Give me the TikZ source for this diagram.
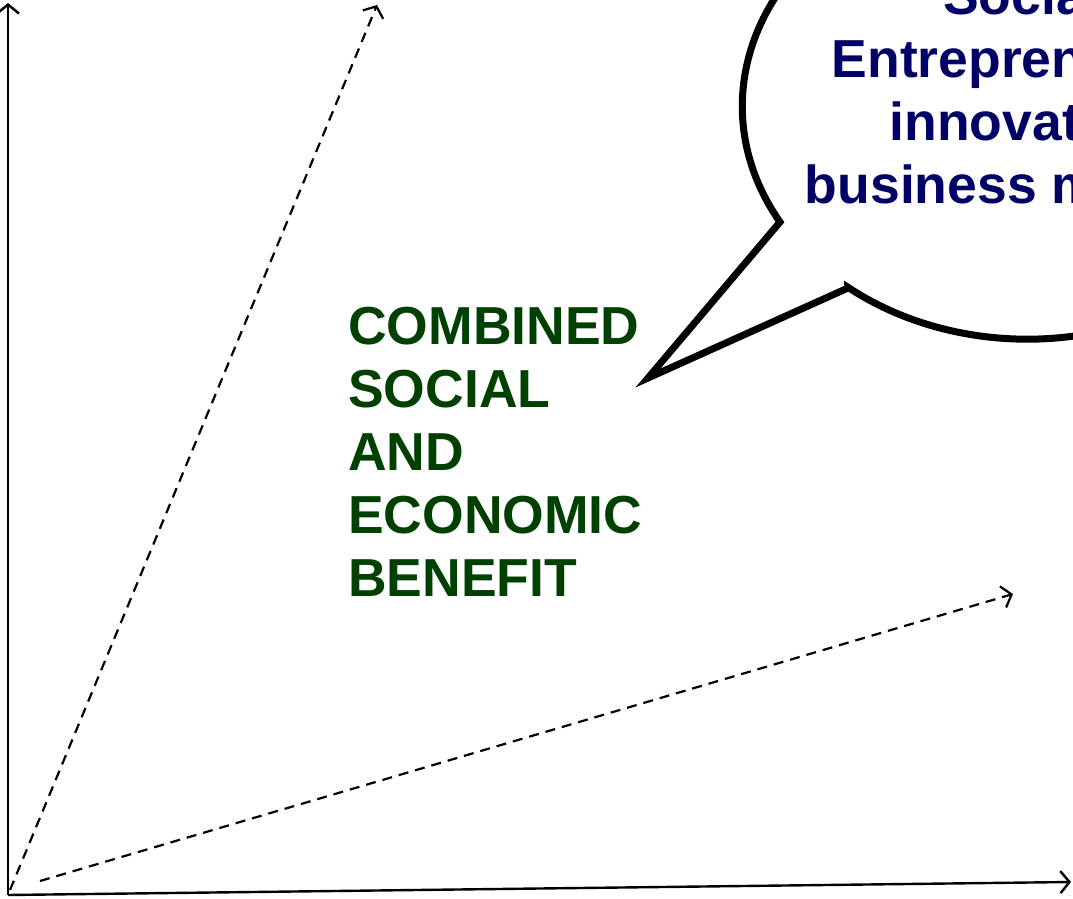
\documentclass[tikz,border=0pt]{standalone}
\usepackage{fontspec}
\setmainfont{Liberation Sans}
\usetikzlibrary{arrows.meta}

\definecolor{benefitgreen}{RGB}{0,64,0}
\definecolor{bubblenavy}{RGB}{0,0,102}

\tikzset{%
        axis/.style={
                ->,
                line width=2.4pt
            },
        ray/.style={
                ->,
                line width=2.2pt,
                dash pattern=on 10pt off 7pt
            },
        bigtext/.style={
                font=\bfseries\fontsize{53.5}{63}\selectfont,
                inner sep=0pt
            }
    }

\begin{document}
\begin{tikzpicture}[x=1pt, y=1pt, >={Straight Barb[length=9pt,width=22pt]}]
    \useasboundingbox (0,0) rectangle (1073,898);

    % axes:
        \coordinate (o) at (8,3);
        \coordinate (ytop) at (8,895);
        \coordinate (xend) at (1071,16);
        \draw[axis] (o) -- (ytop);
        \draw[axis] (o) -- (xend);

    % dashed rays:
        \coordinate (r1s) at (10,8);
        \coordinate (r1e) at (377,893);
        \coordinate (r2s) at (40,17);
        \coordinate (r2e) at (1013,304);
        \draw[ray] (r1s) -- (r1e);
        \draw[ray] (r2s) -- (r2e);

    % label:
        \node [bigtext, text=benefitgreen, align=left, anchor=north west]  (benefit) at (348,591)
            {COMBINED\\SOCIAL\\AND\\ECONOMIC\\BENEFIT};

    % speech bubble:
        \coordinate (tip) at (648,520);
        \coordinate (ta) at (780,676);
        \coordinate (tb) at (848,610);
        \draw[line width=7pt, line join=miter, fill=white] (tb) -- (tip) -- (ta)
            arc[start angle=209.8, end angle=-129, x radius=285, y radius=233] -- cycle;
        \node [bigtext, text=bubblenavy, align=center, anchor=north]  (idea) at (1022,922)
            {Social\\Entrepreneurs'\\innovative\\business models};
\end{tikzpicture}
\end{document}
